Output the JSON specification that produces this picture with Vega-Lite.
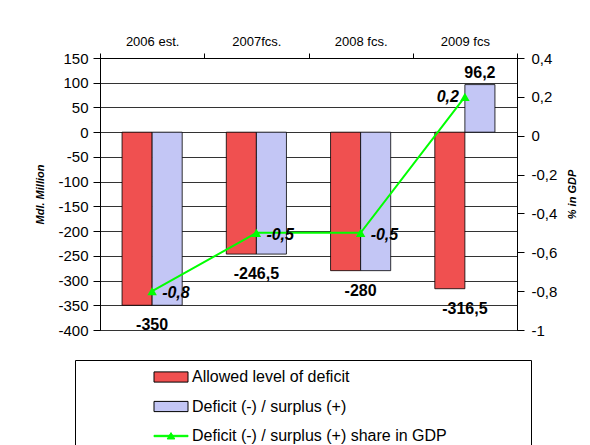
{
  "$schema": "https://vega.github.io/schema/vega-lite/v6.json",
  "width": 417,
  "height": 272,
  "autosize": {"type": "none"},
  "padding": {"left": 100, "top": 58, "right": 73, "bottom": 115},
  "background": "white",
  "config": {
    "font": "Liberation Sans",
    "locale": {"number": {"decimal": ",", "thousands": ".", "grouping": [3], "currency": ["", ""], "minus": "-"}},
    "view": {"stroke": "black", "strokeWidth": 1},
    "axis": {"labelFont": "Liberation Sans", "labelColor": "black", "domainColor": "black", "tickColor": "black", "titleColor": "black", "titleFont": "Liberation Sans"}
  },
  "datasets": {
    "bars": [
      {"year": "2006 est.", "series": "Allowed level of deficit", "value": -350},
      {"year": "2006 est.", "series": "Deficit (-) / surplus (+)", "value": -350},
      {"year": "2007fcs.", "series": "Allowed level of deficit", "value": -246.5},
      {"year": "2007fcs.", "series": "Deficit (-) / surplus (+)", "value": -246.5},
      {"year": "2008 fcs.", "series": "Allowed level of deficit", "value": -280},
      {"year": "2008 fcs.", "series": "Deficit (-) / surplus (+)", "value": -280},
      {"year": "2009 fcs", "series": "Allowed level of deficit", "value": -316.5},
      {"year": "2009 fcs", "series": "Deficit (-) / surplus (+)", "value": 96.2}
    ],
    "gdp": [
      {"year": "2006 est.", "series": "Deficit (-) / surplus (+) share in GDP", "share": -0.8},
      {"year": "2007fcs.", "series": "Deficit (-) / surplus (+) share in GDP", "share": -0.5},
      {"year": "2008 fcs.", "series": "Deficit (-) / surplus (+) share in GDP", "share": -0.5},
      {"year": "2009 fcs", "series": "Deficit (-) / surplus (+) share in GDP", "share": 0.2}
    ]
  },
  "encoding": {
    "x": {
      "field": "year", "type": "nominal",
      "sort": ["2006 est.", "2007fcs.", "2008 fcs.", "2009 fcs"],
      "scale": {"paddingInner": 0, "paddingOuter": 0},
      "axis": {"orient": "top", "title": null, "labelAngle": 0, "labelFontSize": 13, "labelPadding": 5, "tickBand": "extent", "tickSize": 5, "grid": false, "labelOverlap": false}
    }
  },
  "layer": [
    {
      "data": {"name": "bars"},
      "layer": [
        {
          "mark": {"type": "bar", "stroke": "black", "strokeWidth": 0.8},
          "encoding": {
            "xOffset": {"field": "series", "type": "nominal", "sort": ["Allowed level of deficit", "Deficit (-) / surplus (+)"], "scale": {"paddingOuter": 0.733, "paddingInner": 0}},
            "y": {
              "field": "value", "type": "quantitative",
              "scale": {"domain": [-400, 150], "nice": false, "zero": false},
              "axis": {"orient": "left", "title": "Mdl. Million", "values": [150, 100, 50, 0, -50, -100, -150, -200, -250, -300, -350, -400], "tickCount": 20, "format": "d", "labelFontSize": 15, "labelOverlap": false, "labelBound": false, "labelFlush": false, "tickSize": 7, "labelPadding": 5, "grid": true, "gridColor": "#333333", "gridWidth": 1, "titleFontStyle": "italic", "titleFontWeight": "bold", "titleFontSize": 11, "titlePadding": 12}
            },
            "color": {
              "field": "series", "type": "nominal",
              "scale": {"domain": ["Allowed level of deficit", "Deficit (-) / surplus (+)", "Deficit (-) / surplus (+) share in GDP"], "range": ["#f05050", "#c3c6f5", "#00ff00"]},
              "legend": {
                "orient": "none", "legendX": -25, "legendY": 302, "title": null, "direction": "vertical",
                "strokeColor": "black", "fillColor": "white", "padding": 8,
                "labelFontSize": 16, "labelColor": "black", "labelFont": "Liberation Sans", "labelLimit": 600,
                "symbolSize": 289, "symbolOffset": 79, "labelOffset": 12, "rowPadding": 12.5,
                "symbolOpacity": 1, "symbolStrokeWidth": 1,
                "labelExpr": "datum.value == 'Deficit (-) / surplus (+) share in GDP' ? datum.label + '\u00a0\u00a0\u00a0\u00a0\u00a0\u00a0\u00a0\u00a0\u00a0\u00a0\u00a0\u00a0\u00a0\u00a0\u00a0\u00a0\u00a0\u200b' : datum.label"
              }
            }
          }
        },
        {
          "mark": {"type": "point", "opacity": 0, "filled": true},
          "encoding": {
            "xOffset": {"field": "series", "type": "nominal"},
            "y": {"field": "value", "type": "quantitative"},
            "color": {"field": "series", "type": "nominal"},
            "shape": {
              "field": "series", "type": "nominal",
              "scale": {"domain": ["Allowed level of deficit", "Deficit (-) / surplus (+)", "Deficit (-) / surplus (+) share in GDP"], "range": ["M-2,-0.6H2V0.6H-2Z", "M-2,-0.6H2V0.6H-2Z", "M-2,-0.08H2V0.08H-2Z M-0.45,0.35L0,-0.4L0.45,0.35Z"]}
            },
            "stroke": {
              "field": "series", "type": "nominal",
              "scale": {"domain": ["Allowed level of deficit", "Deficit (-) / surplus (+)", "Deficit (-) / surplus (+) share in GDP"], "range": ["#000000", "#000000", "#00ff00"]}
            }
          }
        },
        {
          "transform": [{"filter": "datum.series == 'Allowed level of deficit'"}],
          "mark": {"type": "text", "fontWeight": "bold", "fontSize": 16, "baseline": "middle", "dy": 20, "color": "black"},
          "encoding": {
            "y": {"field": "value", "type": "quantitative"},
            "text": {"field": "value", "type": "quantitative", "format": ".1~f"}
          }
        },
        {
          "transform": [{"filter": "datum.value > 0"}],
          "mark": {"type": "text", "fontWeight": "bold", "fontSize": 16, "baseline": "middle", "dy": -12, "color": "black"},
          "encoding": {
            "xOffset": {"field": "series", "type": "nominal"},
            "y": {"field": "value", "type": "quantitative"},
            "text": {"field": "value", "type": "quantitative", "format": ".1~f"}
          }
        }
      ]
    },
    {
      "data": {"name": "gdp"},
      "layer": [
        {
          "mark": {"type": "line", "strokeWidth": 2, "color": "#00ff00", "point": {"shape": "triangle-up", "filled": true, "size": 90, "color": "#00ff00"}},
          "encoding": {
            "y": {
              "field": "share", "type": "quantitative",
              "scale": {"domain": [-1, 0.4], "nice": false, "zero": false},
              "axis": {"orient": "right", "title": "% in GDP", "values": [0.4, 0.2, 0, -0.2, -0.4, -0.6, -0.8, -1], "tickCount": 20, "format": ".1~f", "labelFontSize": 15, "labelOverlap": false, "labelBound": false, "labelFlush": false, "tickSize": 7, "labelPadding": 7, "grid": false, "titleAngle": 270, "titleBaseline": "top", "titleFontStyle": "italic", "titleFontWeight": "bold", "titleFontSize": 11, "titlePadding": 10}
            }
          }
        },
        {
          "mark": {"type": "point", "opacity": 0, "filled": true},
          "encoding": {
            "y": {"field": "share", "type": "quantitative"},
            "color": {"field": "series", "type": "nominal"},
            "shape": {"field": "series", "type": "nominal"},
            "stroke": {"field": "series", "type": "nominal"}
          }
        },
        {
          "transform": [{"filter": "datum.share < 0"}],
          "mark": {"type": "text", "fontWeight": "bold", "fontStyle": "italic", "fontSize": 16, "baseline": "middle", "align": "left", "dx": 10, "dy": 2, "color": "black"},
          "encoding": {
            "y": {"field": "share", "type": "quantitative"},
            "text": {"field": "share", "type": "quantitative", "format": ".1~f"}
          }
        },
        {
          "transform": [{"filter": "datum.share > 0"}],
          "mark": {"type": "text", "fontWeight": "bold", "fontStyle": "italic", "fontSize": 16, "baseline": "middle", "align": "right", "dx": -6, "dy": 0, "color": "black"},
          "encoding": {
            "y": {"field": "share", "type": "quantitative"},
            "text": {"field": "share", "type": "quantitative", "format": ".1~f"}
          }
        }
      ]
    }
  ],
  "resolve": {"scale": {"y": "independent"}}
}
